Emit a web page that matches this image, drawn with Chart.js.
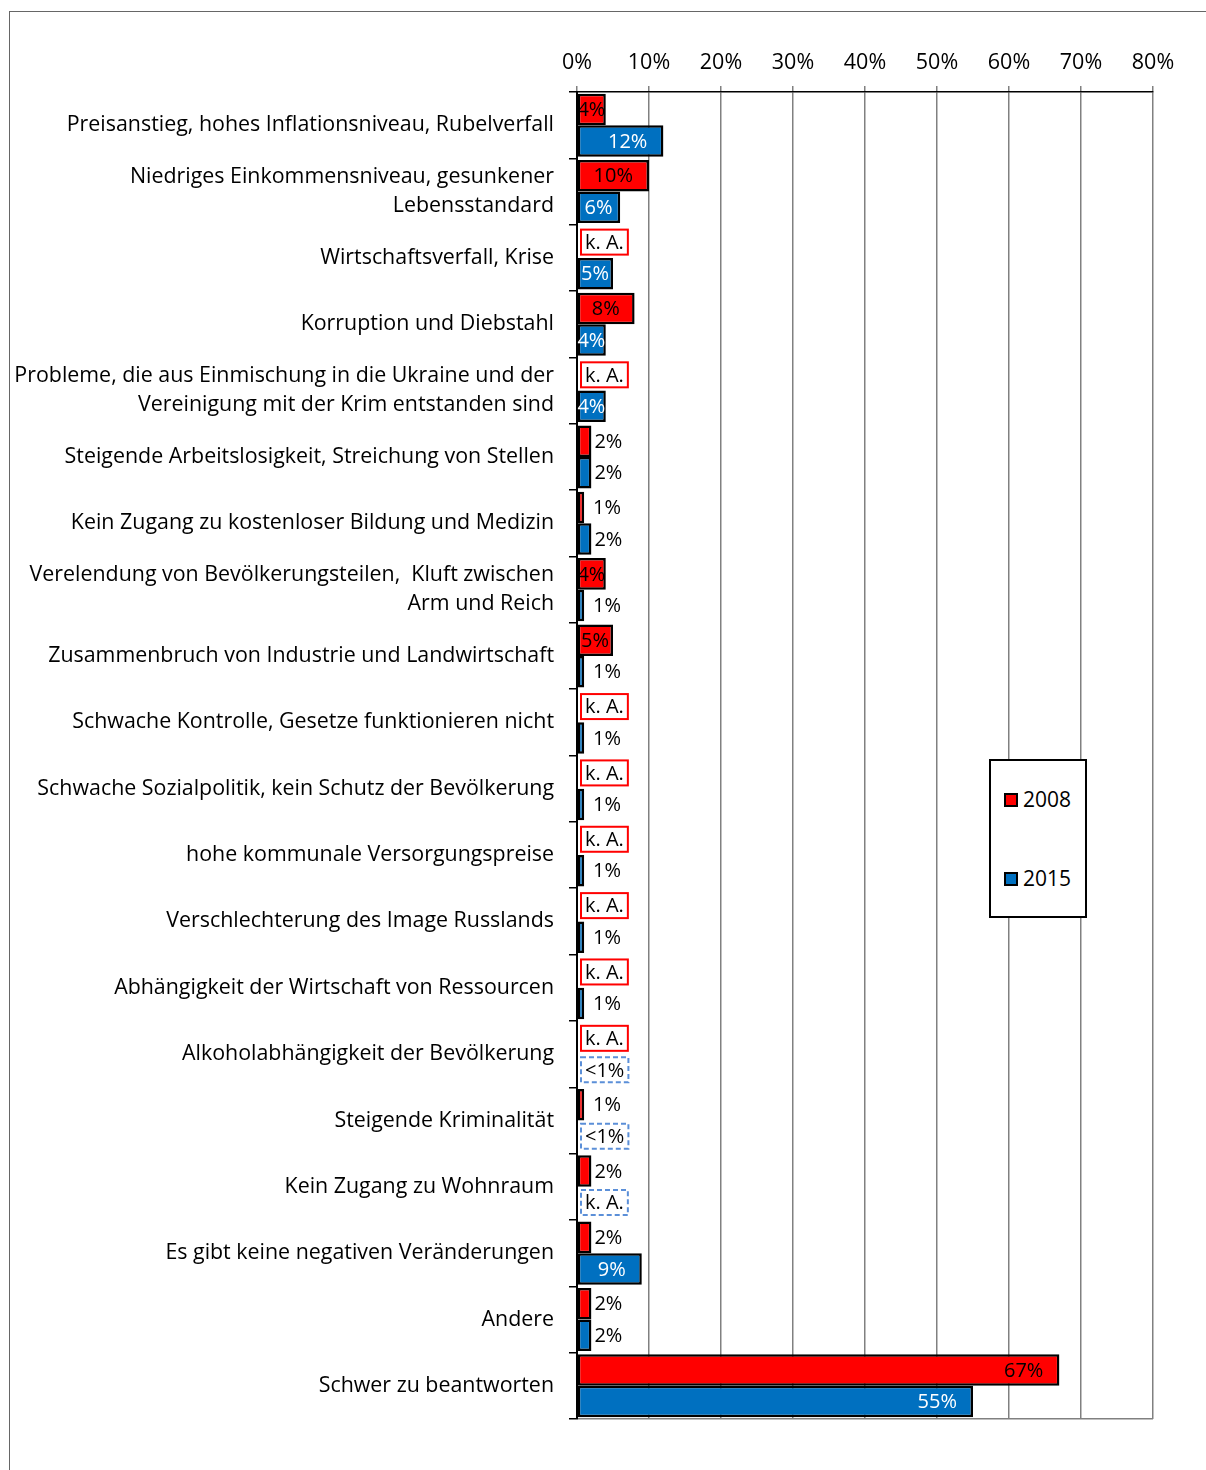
<!DOCTYPE html>
<html>
<head>
<meta charset="utf-8">
<script src="https://cdn.jsdelivr.net/npm/chart.js@4"></script>
<style>
  html, body { margin: 0; padding: 0; background: #fff; }
  body { width: 1206px; height: 1470px; position: relative; overflow: hidden; font-family: 'Open Sans', sans-serif; }
  #frame { position: absolute; left: 9px; top: 11px; width: 1400px; height: 1600px; border: 1px solid #666; }
  #wrap { position: absolute; left: 0; top: 0; width: 1206px; height: 1470px; }
  #legend { position: absolute; left: 989px; top: 759px; width: 94px; height: 155px; border: 2px solid #000; background: #fff; }
  .item { position: absolute; left: 13px; font-size: 21px; line-height: 24px; color: #000; }
  .item span { display: inline-block; width: 10px; height: 10px; border: 2px solid #000; margin-right: 5px; vertical-align: 0px; }
</style>
</head>
<body>
<div id="frame"></div>
<div id="wrap"><canvas id="chart" width="1206" height="1470"></canvas></div>
<div id="legend">
  <div class="item" style="top:26px"><span style="background:#ff0000"></span>2008</div>
  <div class="item" style="top:105px"><span style="background:#0070c0"></span>2015</div>
</div>
<script>
const categories = [
    'Preisanstieg, hohes Inflationsniveau, Rubelverfall',
    ['Niedriges Einkommensniveau, gesunkener', 'Lebensstandard'],
    'Wirtschaftsverfall, Krise',
    'Korruption und Diebstahl',
    ['Probleme, die aus Einmischung in die Ukraine und der', 'Vereinigung mit der Krim entstanden sind'],
    'Steigende Arbeitslosigkeit, Streichung von Stellen',
    'Kein Zugang zu kostenloser Bildung und Medizin',
    ['Verelendung von Bevölkerungsteilen,  Kluft zwischen', 'Arm und Reich'],
    'Zusammenbruch von Industrie und Landwirtschaft',
    'Schwache Kontrolle, Gesetze funktionieren nicht',
    'Schwache Sozialpolitik, kein Schutz der Bevölkerung',
    'hohe kommunale Versorgungspreise',
    'Verschlechterung des Image Russlands',
    'Abhängigkeit der Wirtschaft von Ressourcen',
    'Alkoholabhängigkeit der Bevölkerung',
    'Steigende Kriminalität',
    'Kein Zugang zu Wohnraum',
    'Es gibt keine negativen Veränderungen',
    'Andere',
    'Schwer zu beantworten'
];

// null = k. A. (keine Angabe), '<1' = weniger als 1%
const values2008 = [4, 10, null, 8, null, 2, 1, 4, 5, null, null, null, null, null, null, 1, 2, 2, 2, 67];
const values2015 = [12, 6, 5, 4, 4, 2, 2, 1, 1, 1, 1, 1, 1, 1, '<1', '<1', null, 9, 2, 55];

const xTicks = [0, 10, 20, 30, 40, 50, 60, 70, 80];

const FONT = "20px 'Open Sans'";

const toNum = v => (typeof v === 'number' ? v : null);

const barLabels = {
    id: 'barLabels',
    afterDatasetsDraw(chart) {
        const ctx = chart.ctx;
        ctx.save();
        ctx.font = FONT;
        ctx.textBaseline = 'middle';
        chart.data.datasets.forEach((ds, di) => {
            const meta = chart.getDatasetMeta(di);
            meta.data.forEach((bar, i) => {
                const raw = ds.rawValues[i];
                const y = bar.y;
                const x0 = chart.scales.x.getPixelForValue(0);
                if (typeof raw === 'number') {
                    const txt = raw + '%';
                    const w = ctx.measureText(txt).width;
                    if (raw >= 3) {
                        ctx.fillStyle = di === 0 ? '#000' : '#fff';
                        let left;
                        if (bar.x - x0 >= w + 32) left = bar.x - 16 - w;
                        else left = Math.max(x0, (x0 + bar.x) / 2 - w / 2);
                        ctx.textAlign = 'left';
                        ctx.fillText(txt, left, y + 1);
                    } else {
                        ctx.fillStyle = '#000';
                        ctx.textAlign = 'left';
                        ctx.fillText(txt, Math.max(bar.x + 3, x0 + 16), y + 1);
                    }
                } else {
                    const txt = raw === null ? 'k. A.' : '<1%';
                    const w = ctx.measureText(txt).width;
                    const bx = x0 + 4, bw = w + 8, bh = 25;
                    ctx.fillStyle = '#fff';
                    ctx.fillRect(bx, y - bh / 2, bw, bh);
                    ctx.lineWidth = 2;
                    if (di === 0) {
                        ctx.strokeStyle = '#ff0000';
                        ctx.setLineDash([]);
                    } else {
                        ctx.strokeStyle = '#5b8fd8';
                        ctx.setLineDash([5, 3]);
                    }
                    ctx.strokeRect(bx, y - bh / 2, bw, bh);
                    ctx.setLineDash([]);
                    ctx.fillStyle = '#000';
                    ctx.textAlign = 'center';
                    ctx.fillText(txt, bx + bw / 2, y + 1);
                }
            });
        });
        ctx.restore();
    }
};

Chart.defaults.font.family = "'Open Sans'";
Chart.defaults.font.size = 20;
Chart.defaults.color = '#000';

new Chart(document.getElementById('chart'), {
    type: 'bar',
    data: {
        labels: categories,
        datasets: [{
            label: '2008',
            data: values2008.map(toNum),
            rawValues: values2008,
            backgroundColor: '#ff0000',
            borderColor: '#000',
            borderWidth: 2.5,
            borderSkipped: false,
            barPercentage: 1,
            categoryPercentage: 0.95
        }, {
            label: '2015',
            data: values2015.map(toNum),
            rawValues: values2015,
            backgroundColor: '#0070c0',
            borderColor: '#000',
            borderWidth: 2.5,
            borderSkipped: false,
            barPercentage: 1,
            categoryPercentage: 0.95
        }]
    },
    options: {
        indexAxis: 'y',
        responsive: false,
        animation: false,
        layout: { padding: { left: 0, top: 0, right: 53, bottom: 51 } },
        plugins: {
            legend: { display: false },
            tooltip: { enabled: false }
        },
        scales: {
            x: {
                position: 'top',
                min: 0,
                max: 80,
                afterBuildTicks: scale => { scale.ticks = xTicks.map(v => ({ value: v })); },
                afterFit: scale => { scale.height = 92; },
                ticks: {
                    callback: v => v + '%',
                    font: { size: 21.5 },
                    padding: 10
                },
                grid: {
                    color: '#808080',
                    lineWidth: 1.5,
                    tickLength: 6
                },
                border: { color: '#000', width: 1.5 }
            },
            y: {
                afterFit: scale => { scale.width = 577; },
                ticks: {
                    padding: 15,
                    autoSkip: false,
                    font: { size: 21.4, lineHeight: 1.36 }
                },
                grid: {
                    offset: true,
                    drawOnChartArea: true,
                    color: c => (c.type === 'tick' ? 'rgba(0,0,0,0)' : '#808080'),
                    lineWidth: 1.5,
                    tickColor: '#000',
                    tickLength: 8
                },
                border: { color: '#000', width: 2 }
            }
        }
    },
    plugins: [barLabels]
});
</script>
</body>
</html>
